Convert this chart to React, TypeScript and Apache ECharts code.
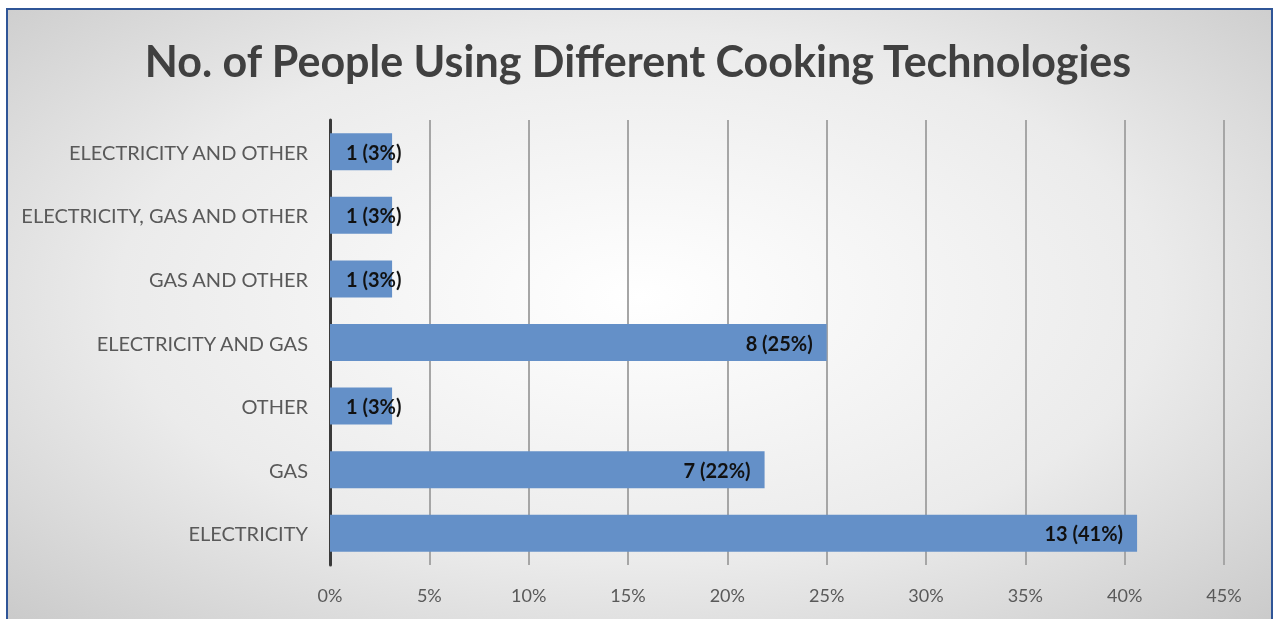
import React, { useEffect, useRef } from "react";
import * as echarts from "echarts";

const TITLE = "No. of People Using Different Cooking Technologies";
const categories = [
  "ELECTRICITY",
  "GAS",
  "OTHER",
  "ELECTRICITY AND GAS",
  "GAS AND OTHER",
  "ELECTRICITY, GAS AND OTHER",
  "ELECTRICITY AND OTHER",
];
const counts = [13, 7, 1, 8, 1, 1, 1];
const xTicks = { min: 0, max: 45, interval: 5 };

const FONT = "Lato, 'Noto Sans', sans-serif";

export default function App() {
  const ref = useRef<HTMLDivElement>(null);
  useEffect(() => {
    if (!ref.current) return;
    const chart = echarts.init(ref.current, undefined, { renderer: "svg" });
    const total = counts.reduce((a, b) => a + b, 0);
    const data = counts.map((c) => {
      const pct = (c / total) * 100;
      const small = pct < 5;
      return {
        value: pct,
        count: c,
        label: small
          ? { position: "insideLeft", distance: 16 }
          : { position: "insideRight", distance: 14 },
      };
    });
    chart.setOption({
      animation: false,
      textStyle: { fontFamily: FONT },
      graphic: [
        {
          type: "rect",
          z: -10,
          silent: true,
          shape: { x: 7, y: 9, width: 1265, height: 640 },
          style: {
            fill: new echarts.graphic.RadialGradient(0.5, 0.45, 0.75, [
              { offset: 0, color: "#ffffff" },
              { offset: 0.55, color: "#ebebeb" },
              { offset: 1, color: "#c6c6c6" },
            ]),
            stroke: "#2f5597",
            lineWidth: 2,
          },
        },
      ],
      title: {
        text: TITLE,
        left: "center",
        top: 34,
        textStyle: {
          fontFamily: FONT,
          fontSize: 43,
          fontWeight: "bold",
          color: "#404040",
        },
      },
      grid: { left: 330, right: 52, top: 120, bottom: 54, containLabel: false },
      xAxis: {
        type: "value",
        min: xTicks.min,
        max: xTicks.max,
        interval: xTicks.interval,
        axisLine: { show: false },
        axisTick: { show: false },
        axisLabel: {
          formatter: "{value}%",
          color: "#595959",
          fontSize: 18,
          margin: 21,
          fontFamily: FONT,
        },
        splitLine: { show: true, lineStyle: { color: "#a6a6a6", width: 2 } },
      },
      yAxis: {
        type: "category",
        data: categories,
        axisLine: { show: true, lineStyle: { color: "#3a3a3a", width: 3 } },
        axisTick: { show: false },
        axisLabel: {
          color: "#595959",
          fontSize: 20,
          margin: 22,
          fontFamily: FONT,
        },
        splitLine: { show: false },
      },
      series: [
        {
          type: "bar",
          data,
          barWidth: 37,
          itemStyle: { color: "#6490c8" },
          label: {
            show: true,
            color: "#111111",
            fontWeight: "bold",
            fontSize: 20,
            fontFamily: FONT,
            formatter: (p: any) =>
              `${p.data.count} (${Math.round(p.value)}%)`,
          },
        },
      ],
    });
    return () => chart.dispose();
  }, []);
  return (
    <div
      ref={ref}
      style={{ position: "fixed", left: 0, top: 0, width: 1276, height: 619 }}
    />
  );
}
